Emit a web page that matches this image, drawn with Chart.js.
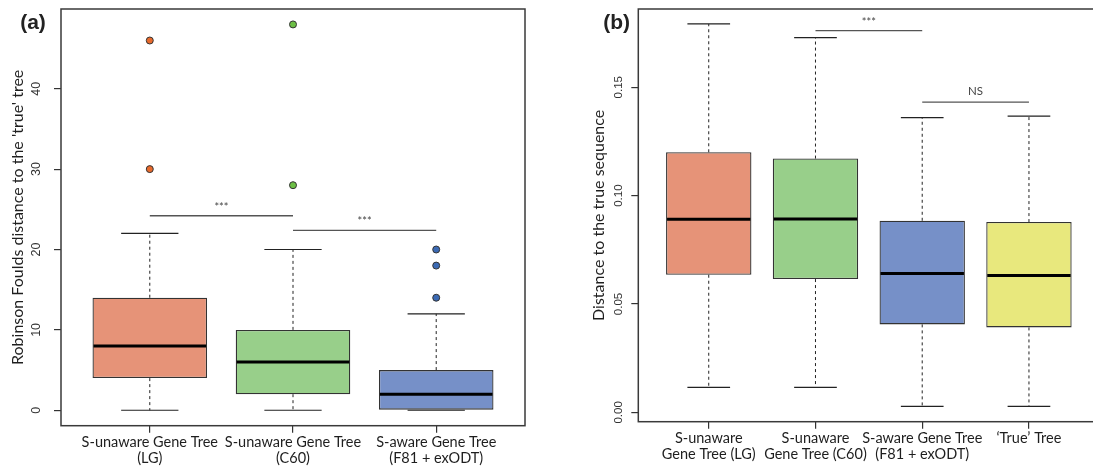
<!DOCTYPE html>
<html lang="en">
<head>
<meta charset="UTF-8" />
<title>Gene tree distances</title>
<style>
  html, body { margin: 0; padding: 0; background: #fff; overflow: hidden; }
  body { width: 1093px; height: 469px; position: relative; }
  canvas { position: absolute; top: 0; }
  #chartA { left: 0; }
  #chartB { left: 560px; }
</style>
</head>
<body>
<canvas id="chartA" width="560" height="469"></canvas>
<canvas id="chartB" width="560" height="469"></canvas>

<script src="https://cdn.jsdelivr.net/npm/chart.js@4.4.0/dist/chart.umd.min.js"></script>
<script>
// ---- panel (a): Robinson Foulds distance ----
var labelsA = [
  ["S-unaware Gene Tree", "(LG)"],
  ["S-unaware Gene Tree", "(C60)"],
  ["S-aware Gene Tree", "(F81 + exODT)"]
];
var lowA = [0, 0, 0];
var q1A = [4, 2, 0];
var medA = [8, 6, 2];
var q3A = [14, 10, 5];
var highA = [22, 20, 12];
var outliersA = [[30, 46], [28, 48], [14, 18, 20]];
var ticksA = [0, 10, 20, 30, 40];
var bracketsA = [
  { from: 1, to: 2, y: 24.2, text: "***" },
  { from: 2, to: 3, y: 22.38, text: "***" }
];

// ---- panel (b): distance to the true sequence ----
var labelsB = [
  ["S-unaware", "Gene Tree (LG)"],
  ["S-unaware", "Gene Tree (C60)"],
  ["S-aware Gene Tree", "(F81 + exODT)"],
  ["\u2018True\u2019 Tree"]
];
var lowB = [0.0115, 0.0115, 0.0028, 0.0028];
var q1B = [0.0635, 0.0615, 0.0406, 0.0392];
var medB = [0.0891, 0.0892, 0.0641, 0.0632];
var q3B = [0.1200, 0.1171, 0.0884, 0.0878];
var highB = [0.1792, 0.1729, 0.1360, 0.1367];
var outliersB = [[], [], [], []];
var ticksB = [0, 0.05, 0.1, 0.15];
var bracketsB = [
  { from: 2, to: 3, y: 0.1761, text: "***" },
  { from: 3, to: 4, y: 0.1431, text: "NS" }
];

var boxColors = ["#E69378", "#98CF8A", "#7690C8", "#E8E87D"];
var pointColors = ["#E86A2C", "#6CBF45", "#3B6AB4", "#D8D84A"];
var labelFont = "Lato, 'Open Sans', sans-serif";

// whiskers, medians, brackets, frame and rotated tick labels
function extras(cfg) {
  return {
    id: "boxExtras",
    afterDatasetsDraw: function (chart) {
      var ctx = chart.ctx, xs = chart.scales.x, ys = chart.scales.y;
      ctx.save();
      for (var i = 0; i < cfg.low.length; i++) {
        var cx = xs.getPixelForValue(i + 1);
        var half = xs.getPixelForValue(i + 1.4) - cx;
        var cap = half / 2;
        var yLow = ys.getPixelForValue(cfg.low[i]);
        var yHigh = ys.getPixelForValue(cfg.high[i]);

        ctx.strokeStyle = "#222";
        ctx.lineWidth = 1;
        ctx.setLineDash([3, 3]);
        ctx.beginPath();
        ctx.moveTo(cx, ys.getPixelForValue(cfg.q3[i]));
        ctx.lineTo(cx, yHigh);
        ctx.moveTo(cx, ys.getPixelForValue(cfg.q1[i]));
        ctx.lineTo(cx, yLow);
        ctx.stroke();
        ctx.setLineDash([]);

        ctx.lineWidth = 1.2;
        ctx.beginPath();
        ctx.moveTo(cx - cap, yHigh);
        ctx.lineTo(cx + cap, yHigh);
        ctx.moveTo(cx - cap, yLow);
        ctx.lineTo(cx + cap, yLow);
        ctx.stroke();

        var yMed = ys.getPixelForValue(cfg.med[i]);
        ctx.strokeStyle = "#000";
        ctx.lineWidth = 3;
        ctx.beginPath();
        ctx.moveTo(cx - half + 1, yMed);
        ctx.lineTo(cx + half - 1, yMed);
        ctx.stroke();
      }
      ctx.restore();
    },
    afterDraw: function (chart) {
      var ctx = chart.ctx, xs = chart.scales.x, ys = chart.scales.y, a = chart.chartArea;
      ctx.save();
      // frame
      ctx.strokeStyle = "#3a3a3a";
      ctx.lineWidth = 1.5;
      ctx.strokeRect(a.left, a.top, a.right - a.left, a.bottom - a.top);

      // significance brackets
      cfg.brackets.forEach(function (b) {
        var y = ys.getPixelForValue(b.y);
        ctx.strokeStyle = "#555";
        ctx.lineWidth = 1.3;
        ctx.beginPath();
        ctx.moveTo(xs.getPixelForValue(b.from), y);
        ctx.lineTo(xs.getPixelForValue(b.to), y);
        ctx.stroke();
        ctx.fillStyle = "#444";
        ctx.textAlign = "center";
        ctx.textBaseline = "alphabetic";
        ctx.font = b.text === "NS" ? "11.5px " + labelFont : "11px " + labelFont;
        ctx.fillText(b.text, (xs.getPixelForValue(b.from) + xs.getPixelForValue(b.to)) / 2,
          y - (b.text === "NS" ? 7 : 5));
      });

      // rotated y tick labels
      ctx.fillStyle = "#333";
      ctx.font = cfg.tickFont;
      ctx.textAlign = "center";
      ctx.textBaseline = "middle";
      ys.ticks.forEach(function (t) {
        ctx.save();
        ctx.translate(a.left - cfg.tickGap, ys.getPixelForValue(t.value));
        ctx.rotate(-Math.PI / 2);
        ctx.fillText(cfg.fmt(t.value), 0, 0);
        ctx.restore();
      });

      // panel letter
      ctx.fillStyle = "#222";
      ctx.font = "bold 21px 'Liberation Sans', Arial, sans-serif";
      ctx.textAlign = "center";
      ctx.fillText(cfg.letter, cfg.letterX, 23);
      ctx.restore();
    }
  };
}

function makeChart(id, d) {
  var datasets = [{
    type: "bar",
    data: d.q1.map(function (v, i) { return { x: i + 1, y: [v, d.q3[i]] }; }),
    backgroundColor: boxColors.slice(0, d.q1.length),
    borderColor: "#333",
    borderWidth: 1.3,
    borderSkipped: false,
    categoryPercentage: 0.8,
    barPercentage: 1.0
  }];
  d.outliers.forEach(function (list, i) {
    datasets.push({
      type: "scatter",
      data: list.map(function (v) { return { x: i + 1, y: v }; }),
      pointRadius: 3.5,
      pointBackgroundColor: pointColors[i],
      pointBorderColor: "#333",
      pointBorderWidth: 1
    });
  });

  return new Chart(document.getElementById(id), {
    type: "bar",
    data: { datasets: datasets },
    options: {
      responsive: false,
      animation: false,
      layout: { padding: { top: 9, right: d.padRight, left: 0, bottom: 0 } },
      plugins: { legend: { display: false }, tooltip: { enabled: false } },
      scales: {
        x: {
          type: "linear",
          min: d.xMin,
          max: d.xMax,
          offset: false,
          afterFit: function (s) { s.height = d.xHeight; },
          grid: { display: true, offset: false, drawOnChartArea: false, drawTicks: true, tickLength: 7, color: "#333", lineWidth: 1.2 },
          border: { display: false },
          ticks: {
            stepSize: 1,
            includeBounds: false,
            autoSkip: false,
            maxRotation: 0,
            minRotation: 0,
            padding: 2,
            color: "#1e1e1e",
            font: { family: labelFont, size: 14.5, lineHeight: 1.1 },
            callback: function (v) { return d.labels[v - 1]; }
          }
        },
        y: {
          min: d.yMin,
          max: d.yMax,
          afterFit: function (s) { s.width = d.yWidth; },
          afterBuildTicks: function (s) { s.ticks = d.ticks.map(function (v) { return { value: v }; }); },
          grid: { display: true, drawOnChartArea: false, drawTicks: true, tickLength: 7, color: "#333", lineWidth: 1.2 },
          border: { display: false },
          ticks: { display: false },
          title: {
            display: true,
            text: d.title,
            color: "#1e1e1e",
            font: { family: labelFont, size: 16 },
            padding: { top: d.titlePad, bottom: 0 }
          }
        }
      }
    },
    plugins: [extras({
      low: d.low, q1: d.q1, med: d.med, q3: d.q3, high: d.high,
      brackets: d.brackets, tickFont: d.tickFont, tickGap: d.tickGap, fmt: d.fmt,
      letter: d.letter, letterX: d.letterX
    })]
  });
}

makeChart("chartA", {
  labels: labelsA, low: lowA, q1: q1A, med: medA, q3: q3A, high: highA,
  outliers: outliersA, ticks: ticksA, brackets: bracketsA,
  xMin: 0.38, xMax: 3.62, yMin: -1.92, yMax: 49.92,
  yWidth: 61, xHeight: 43.3, padRight: 35,
  title: "Robinson Foulds distance to the 'true' tree", titlePad: 8.4,
  tickFont: "12.5px 'Liberation Sans', Arial, sans-serif", tickGap: 24,
  fmt: function (v) { return String(v); },
  letter: "(a)", letterX: 33
});

makeChart("chartB", {
  labels: labelsB, low: lowB, q1: q1B, med: medB, q3: q3B, high: highB,
  outliers: outliersB, ticks: ticksB, brackets: bracketsB,
  xMin: 0.34, xMax: 4.66, yMin: -0.0043, yMax: 0.1861,
  yWidth: 78.3, xHeight: 47.3, padRight: 20.6,
  title: "Distance to the true sequence", titlePad: 29.4,
  tickFont: "11.5px 'Liberation Sans', Arial, sans-serif", tickGap: 19.3,
  fmt: function (v) { return v.toFixed(2); },
  letter: "(b)", letterX: 56.7
});
</script>
</body>
</html>
